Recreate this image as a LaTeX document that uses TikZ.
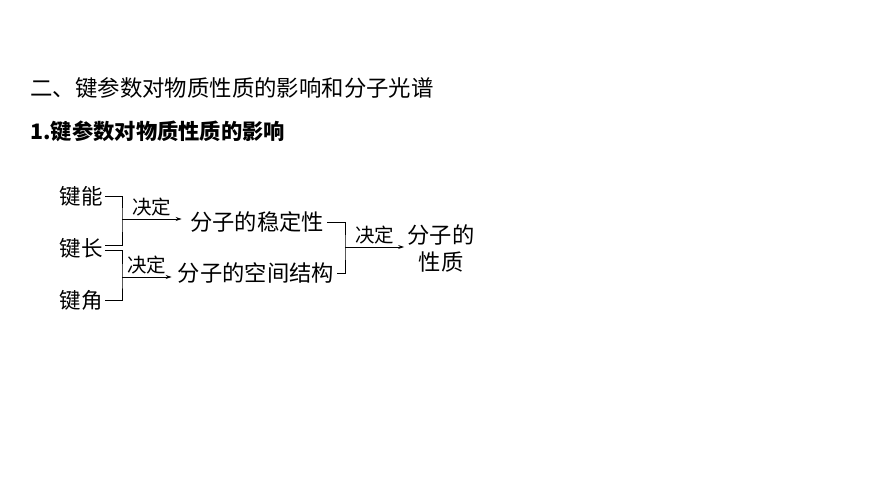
\documentclass[tikz,border=0pt]{standalone}
\usepackage{fontspec}
\setmainfont{Noto Sans CJK SC}
\usetikzlibrary{calc,positioning,arrows.meta}
\tikzset{
  key/.style={inner sep=2pt, font=\fontsize{21.5}{24}\selectfont},
  prop/.style={inner sep=3pt, font=\fontsize{22.3}{27}\selectfont, align=center},
  det/.style={midway, above, inner sep=2pt, font=\fontsize{19.5}{22}\selectfont},
  arr/.style={-{Stealth[length=6pt, width=4pt]}},
}
\begin{document}
\begin{tikzpicture}[x=1pt, y=-1pt, line width=0.8pt]
\useasboundingbox (0,0) rectangle (870,489);
%headings
\node[anchor=west, inner sep=0] (title) at (30,88) {\fontsize{22.4}{26}\selectfont 二、键参数对物质性质的影响和分子光谱};
\node[anchor=west, inner sep=0] (sub) at (30,131) {\fontsize{21.3}{25}\selectfont\bfseries 1.键参数对物质性质的影响};

%bond parameters
\node[key] (jn) at (81,196) {键能};
\node[key] (jc) at (81,248) {键长};
\node[key] (jj) at (81,300) {键角};

%properties
\node[prop] (wd) at (257,222) {分子的稳定性};
\node[prop] (kj) at (256,273) {分子的空间结构};
\node[prop] (xz) at (441,248) {分子的\\性质};

%brackets and arrows
\coordinate (lb1) at (122,219);
\coordinate (lb2) at (122,277);
\coordinate (rb) at (345,247);
\draw (jn.east) -| (lb1) |- ([yshift=3pt]jc.east);
\draw ([yshift=-2pt]jc.east) -| (lb2) |- (jj.east);
\draw[arr] (lb1) -- ($(lb1 -| wd.west)+(-5,0)$) node[det] {决定};
\draw[arr] (lb2) -- ($(lb2 -| kj.west)+(-3,0)$) node[det] {决定};
\draw (wd.east) -| (rb) |- (kj.east);
\draw[arr] (rb) -- (rb -| xz.west) node[det] {决定};
\end{tikzpicture}
\end{document}
